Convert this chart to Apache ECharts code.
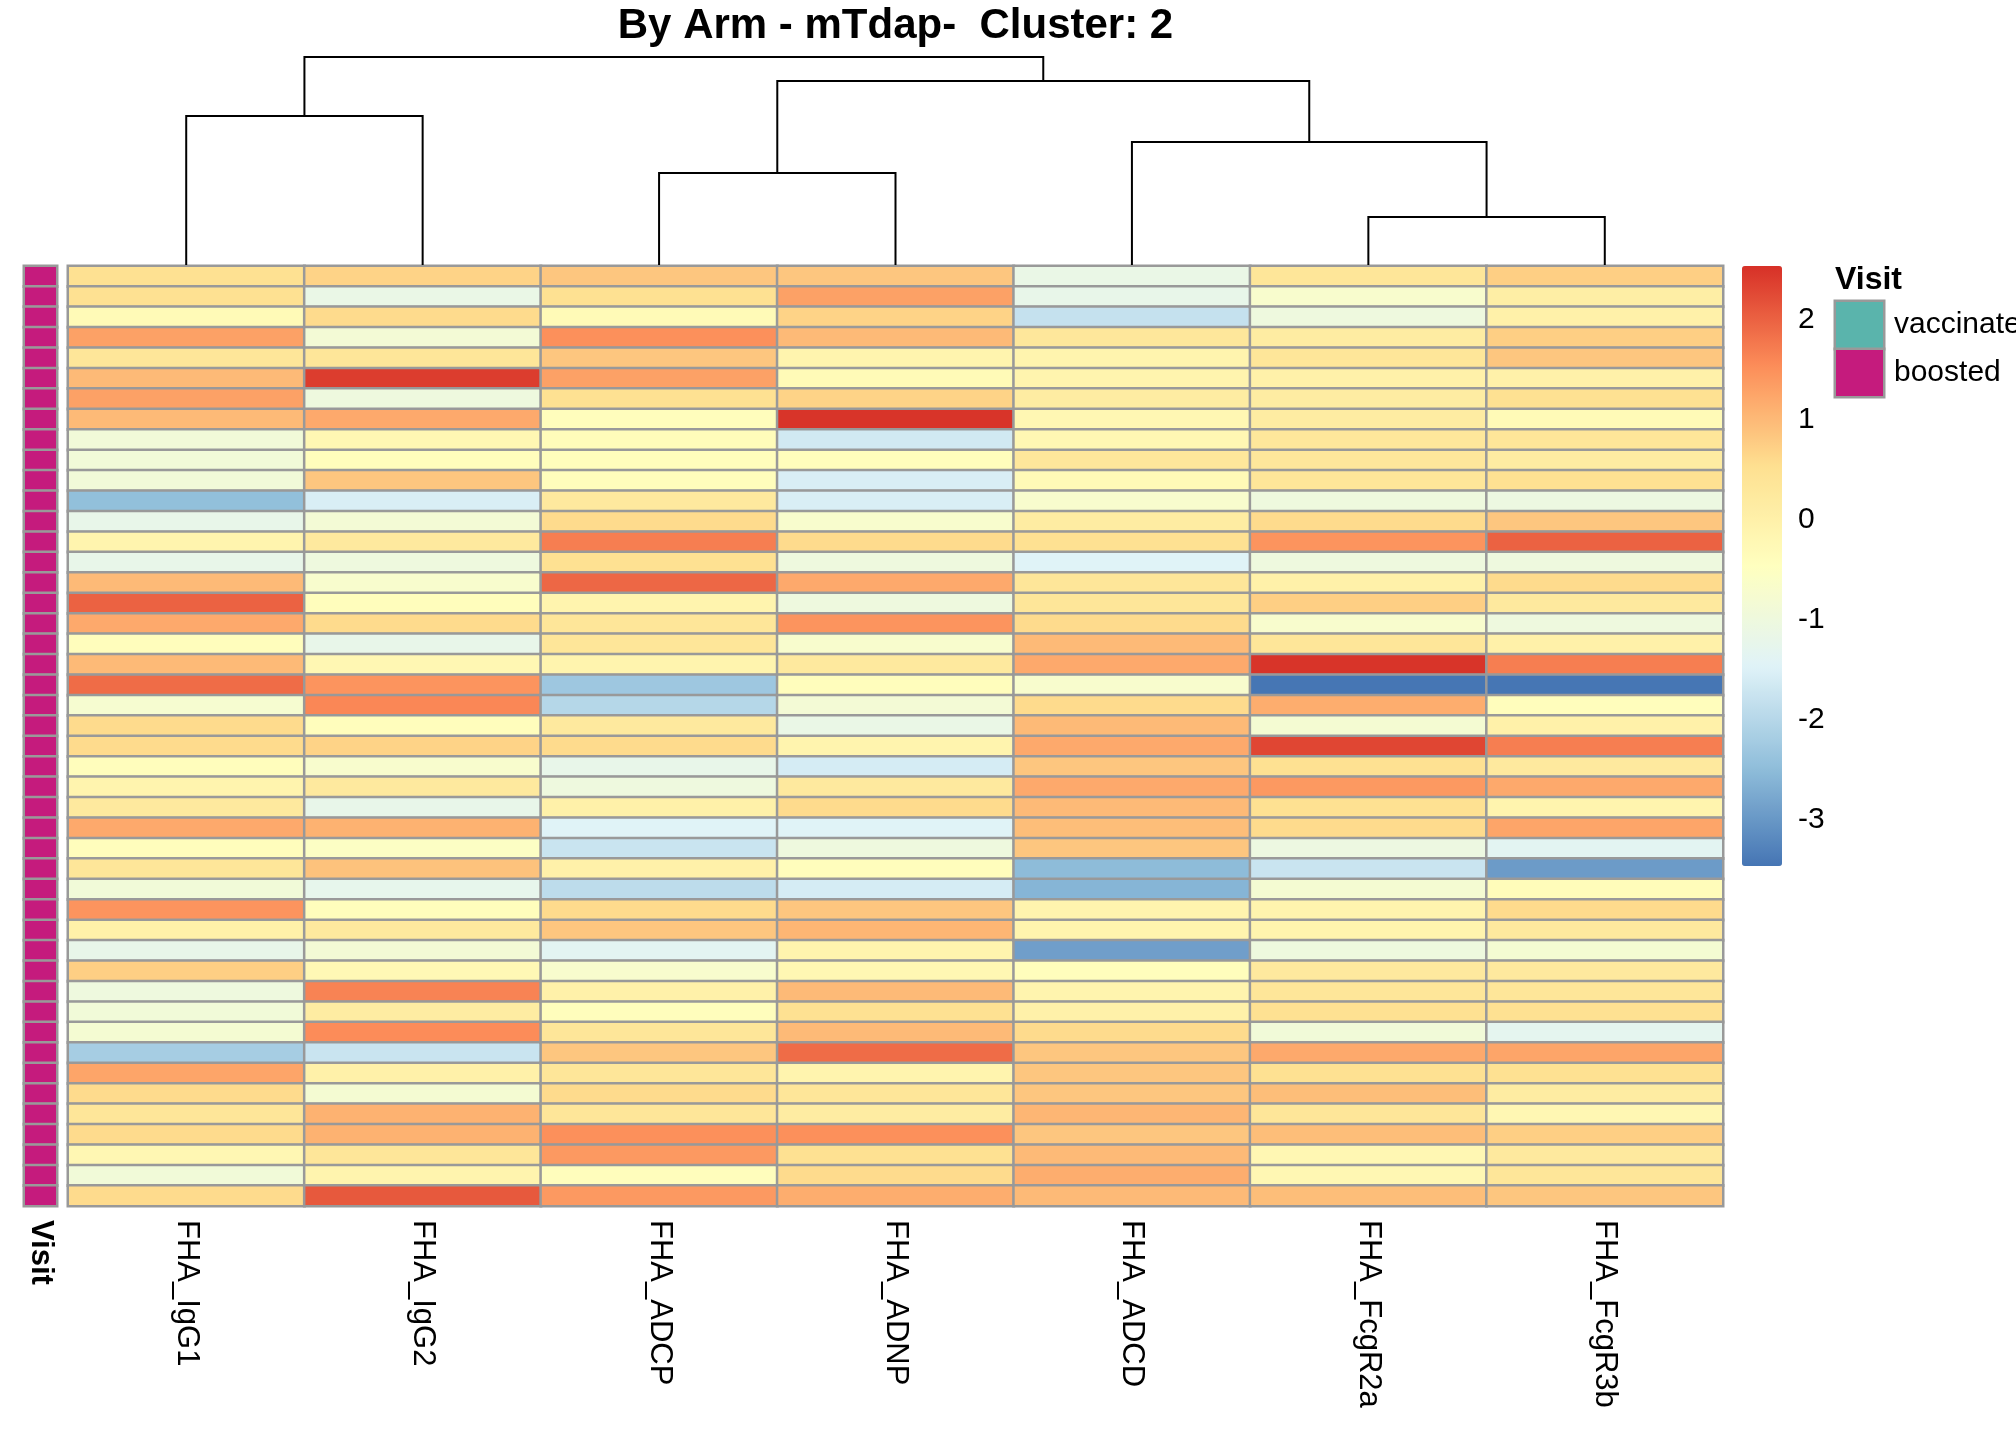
<!DOCTYPE html>
<html>
<head>
<meta charset="utf-8">
<script src="https://cdn.jsdelivr.net/npm/echarts@6/dist/echarts.min.js"></script>
<style>
  html, body { margin: 0; padding: 0; background: #fff; }
  #chart { width: 2016px; height: 1440px; }
</style>
</head>
<body>
<div id="chart"></div>
<script>
// Columns, already in dendrogram order
const features = ['FHA_IgG1', 'FHA_IgG2', 'FHA_ADCP', 'FHA_ADNP', 'FHA_ADCD', 'FHA_FcgR2a', 'FHA_FcgR3b'];

// Scaled values per feature (46 samples, top to bottom)
const fhaIgG1 = [0.5, 0.5, -0.3, 1.3, 0.35, 1.0, 1.3, 1.0, -0.9, -0.9, -0.9, -2.45, -1.2, -0.1, -1.2, 1.0, 2.0, 1.2, -0.4, 1.0, 1.9, -0.75, 0.6, 0.6, -0.4, -0.1, 0.25, 1.2, -0.4, 0.35, -0.9, 1.45, 0.0, -1.2, 0.75, -1.0, -0.9, -0.8, -2.2, 1.25, 0.6, 0.35, 0.6, -0.2, -0.9, 0.6];
const fhaIgG2 = [0.7, -1.15, 0.6, -0.85, 0.35, 2.4, -1.0, 1.2, -0.2, -0.4, 0.85, -1.55, -0.85, 0.25, -1.0, -0.7, -0.4, 0.6, -1.2, -0.2, 1.45, 1.6, -0.4, 0.7, -0.7, 0.25, -1.2, 1.1, -0.55, 0.9, -1.25, -0.4, 0.25, -0.85, -0.25, 1.65, 0.15, 1.55, -1.75, 0.0, -0.8, 1.1, 1.1, 0.35, -0.1, 2.1];
const fhaADCP = [0.85, 0.5, -0.3, 1.5, 0.85, 1.3, 0.5, -0.4, -0.35, -0.4, -0.4, 0.25, 0.6, 1.7, 0.5, 1.95, -0.1, 0.35, 0.35, -0.1, -2.3, -2.0, 0.25, 0.6, -1.2, -1.0, 0.0, -1.45, -1.75, 0.0, -1.9, 0.6, 0.85, -1.35, -0.7, 0.0, -0.4, 0.35, 0.85, 0.35, 0.6, 0.35, 1.5, 1.4, -0.4, 1.4];
const fhaADNP = [0.85, 1.3, 0.7, 1.0, -0.1, -0.3, 0.7, 2.5, -1.65, -0.4, -1.55, -1.55, -0.7, 0.6, -1.0, 1.2, -1.0, 1.45, -0.7, 0.25, -0.4, -0.85, -1.15, -0.1, -1.6, 0.25, 0.6, -1.45, -1.0, -0.4, -1.6, 0.85, 1.05, -0.1, -0.2, 1.0, 0.5, 1.0, 1.9, -0.1, 0.35, 0.15, 1.5, 0.5, 0.6, 1.15];
const fhaADCD = [-1.15, -1.2, -1.8, 0.3, -0.1, -0.1, 0.15, -0.2, -0.2, 0.3, -0.3, -0.7, 0.15, 0.5, -1.45, 0.35, 0.35, 0.6, 1.0, 1.2, -0.7, 0.6, 1.0, 1.2, 0.85, 1.2, 1.0, 0.95, 0.85, -2.5, -2.6, -0.1, -0.1, -2.9, -0.4, -0.1, 0.0, 0.6, 0.85, 0.85, 0.85, 1.05, 0.85, 1.0, 1.15, 1.0];
const fhaFcgR2a = [0.35, -0.7, -1.0, 0.15, 0.35, 0.0, 0.15, 0.15, 0.3, 0.3, 0.35, -1.0, 0.6, 1.45, -1.0, 0.0, 0.75, -0.7, 0.35, 2.5, -3.45, 1.15, -0.8, 2.3, 0.5, 1.4, 0.5, 0.6, -1.05, -1.75, -0.8, -0.1, -0.1, -1.0, 0.25, 0.35, 0.5, -0.9, 1.2, 0.5, 0.95, 0.35, 0.95, -0.2, -0.2, 0.95];
const fhaFcgR3b = [0.75, 0.1, 0.0, 0.75, 0.85, 0.0, 0.5, -0.3, 0.35, 0.15, 0.5, -1.05, 0.85, 2.0, -1.0, 0.6, 0.25, -1.0, 0.0, 1.7, -3.45, -0.4, 0.0, 1.7, 0.25, 1.2, -0.1, 1.25, -1.35, -2.95, -0.35, 0.6, 0.25, -0.8, 0.25, 0.35, 0.5, -1.3, 1.25, 0.5, 0.15, -0.2, 0.75, 0.25, 0.35, 0.85];
const featureValues = [fhaIgG1, fhaIgG2, fhaADCP, fhaADNP, fhaADCD, fhaFcgR2a, fhaFcgR3b];

// Sample annotation (index into visitLevels)
const visitLevels = ['vaccinated', 'boosted'];
const visitColors = ['#5AB4AC', '#C51B7D'];
const sampleVisit = Array(46).fill(1);

// Column dendrogram, hclust style (negative = leaf, positive = earlier merge)
const dendroMerge = [[-1, -2], [-3, -4], [-6, -7], [-5, 3], [2, 4], [1, 5]];
const dendroHeight = [1.49, 0.92, 0.48, 1.23, 1.84, 2.08];

// Colour scale
const scaleMin = -3.46, scaleMax = 2.54;
const palette = ['#4575B4', '#91BFDB', '#E0F3F8', '#FFFFBF', '#FEE090', '#FC8D59', '#D73027'];

const FONT = 'Liberation Sans';
const HM = { left: 68, top: 266, width: 1655, height: 940 };

const rowIds = sampleVisit.map((_, i) => String(i + 1));

let heatData = [];
featureValues.forEach((col, c) => {
    col.forEach((v, r) => heatData.push([c, r, v]));
});
const annoData = sampleVisit.map((v, r) => [0, r, v]);
const legendData = visitLevels.map((_, i) => [0, i, i]);

// Dendrogram segments (U shapes)
const nodes = [];
const dendroSegs = [];
function nodePos(ref) {
    return ref < 0 ? [-ref - 0.5, 0] : nodes[ref - 1];
}
dendroMerge.forEach((m, i) => {
    const a = nodePos(m[0]), b = nodePos(m[1]), h = dendroHeight[i];
    dendroSegs.push({ coords: [[a[0], a[1]], [a[0], h], [b[0], h], [b[0], b[1]]] });
    nodes.push([(a[0] + b[0]) / 2, h]);
});

const hidden = { show: false };
const cellBorder = { borderColor: '#999999', borderWidth: 2.5 };

function gridAt(left, top, width, height) {
    return { left: left, top: top, width: width, height: height, outerBoundsMode: 'none', containLabel: false };
}

const chart = echarts.init(document.getElementById('chart'));
chart.setOption({
    backgroundColor: '#fff',
    animation: false,
    title: [{
        text: 'By Arm - mTdap-  Cluster: 2',
        left: HM.left + HM.width / 2, top: 5, textAlign: 'center', padding: 0,
        textStyle: { fontFamily: FONT, fontSize: 42, fontWeight: 'bold', color: '#000' }
    }, {
        text: 'Visit',
        left: 1835, top: 264, padding: 0,
        textStyle: { fontFamily: FONT, fontSize: 32, fontWeight: 'bold', color: '#000' }
    }],
    grid: [
        gridAt(HM.left, HM.top, HM.width, HM.height),   // heatmap
        gridAt(24, HM.top, 33, HM.height),              // annotation
        gridAt(HM.left, 57, HM.width, 208),             // dendrogram
        gridAt(1742, 266, 40, 600),                     // colour bar ticks
        gridAt(1835, 301, 49, 96)                       // visit legend
    ],
    xAxis: [
        {
            gridIndex: 0, type: 'category', data: features, position: 'bottom',
            axisLine: hidden, axisTick: hidden, splitLine: hidden,
            axisLabel: { rotate: -90, margin: 14, fontFamily: FONT, fontSize: 31, color: '#000', interval: 0 }
        },
        {
            gridIndex: 1, type: 'category', data: ['Visit'], position: 'bottom',
            axisLine: hidden, axisTick: hidden,
            axisLabel: { rotate: -90, margin: 14, fontFamily: FONT, fontSize: 31, fontWeight: 'bold', color: '#000' }
        },
        { gridIndex: 2, type: 'value', min: 0, max: features.length, show: false },
        { gridIndex: 3, type: 'value', show: false },
        { gridIndex: 4, type: 'category', data: [''], show: false }
    ],
    yAxis: [
        { gridIndex: 0, type: 'category', data: rowIds, inverse: true, show: false },
        { gridIndex: 1, type: 'category', data: rowIds, inverse: true, show: false },
        { gridIndex: 2, type: 'value', min: 0, max: dendroHeight[dendroHeight.length - 1], show: false },
        {
            gridIndex: 3, type: 'value', min: scaleMin, max: scaleMax, position: 'right', splitNumber: 6,
            axisLine: hidden, axisTick: hidden, splitLine: hidden,
            axisLabel: { showMinLabel: false, showMaxLabel: false, margin: 16, fontFamily: FONT, fontSize: 30, color: '#000' }
        },
        {
            gridIndex: 4, type: 'category', data: visitLevels, inverse: true, position: 'right',
            axisLine: hidden, axisTick: hidden,
            axisLabel: { margin: 10, fontFamily: FONT, fontSize: 30, color: '#000' }
        }
    ],
    visualMap: [{
        type: 'continuous', seriesIndex: 0, dimension: 2,
        min: scaleMin, max: scaleMax, calculable: false, realtime: false,
        left: 1742, top: 266, itemWidth: 40, itemHeight: 600, padding: 0,
        text: null, showLabel: false, hoverLink: false,
        inRange: { color: palette }
    }, {
        type: 'piecewise', seriesIndex: [1, 2], dimension: 2, show: false,
        pieces: visitLevels.map((lv, i) => ({ value: i, label: lv, color: visitColors[i] }))
    }],
    series: [
        {
            type: 'heatmap', xAxisIndex: 0, yAxisIndex: 0, data: heatData,
            itemStyle: cellBorder, emphasis: { disabled: true }
        },
        {
            type: 'heatmap', xAxisIndex: 1, yAxisIndex: 1, data: annoData,
            itemStyle: cellBorder, emphasis: { disabled: true }
        },
        {
            type: 'heatmap', xAxisIndex: 4, yAxisIndex: 4, data: legendData,
            itemStyle: cellBorder, emphasis: { disabled: true }
        },
        {
            type: 'lines', coordinateSystem: 'cartesian2d', xAxisIndex: 2, yAxisIndex: 2,
            polyline: true, data: dendroSegs, silent: true,
            lineStyle: { color: '#000', width: 2, opacity: 1 }
        }
    ]
});
</script>
</body>
</html>
